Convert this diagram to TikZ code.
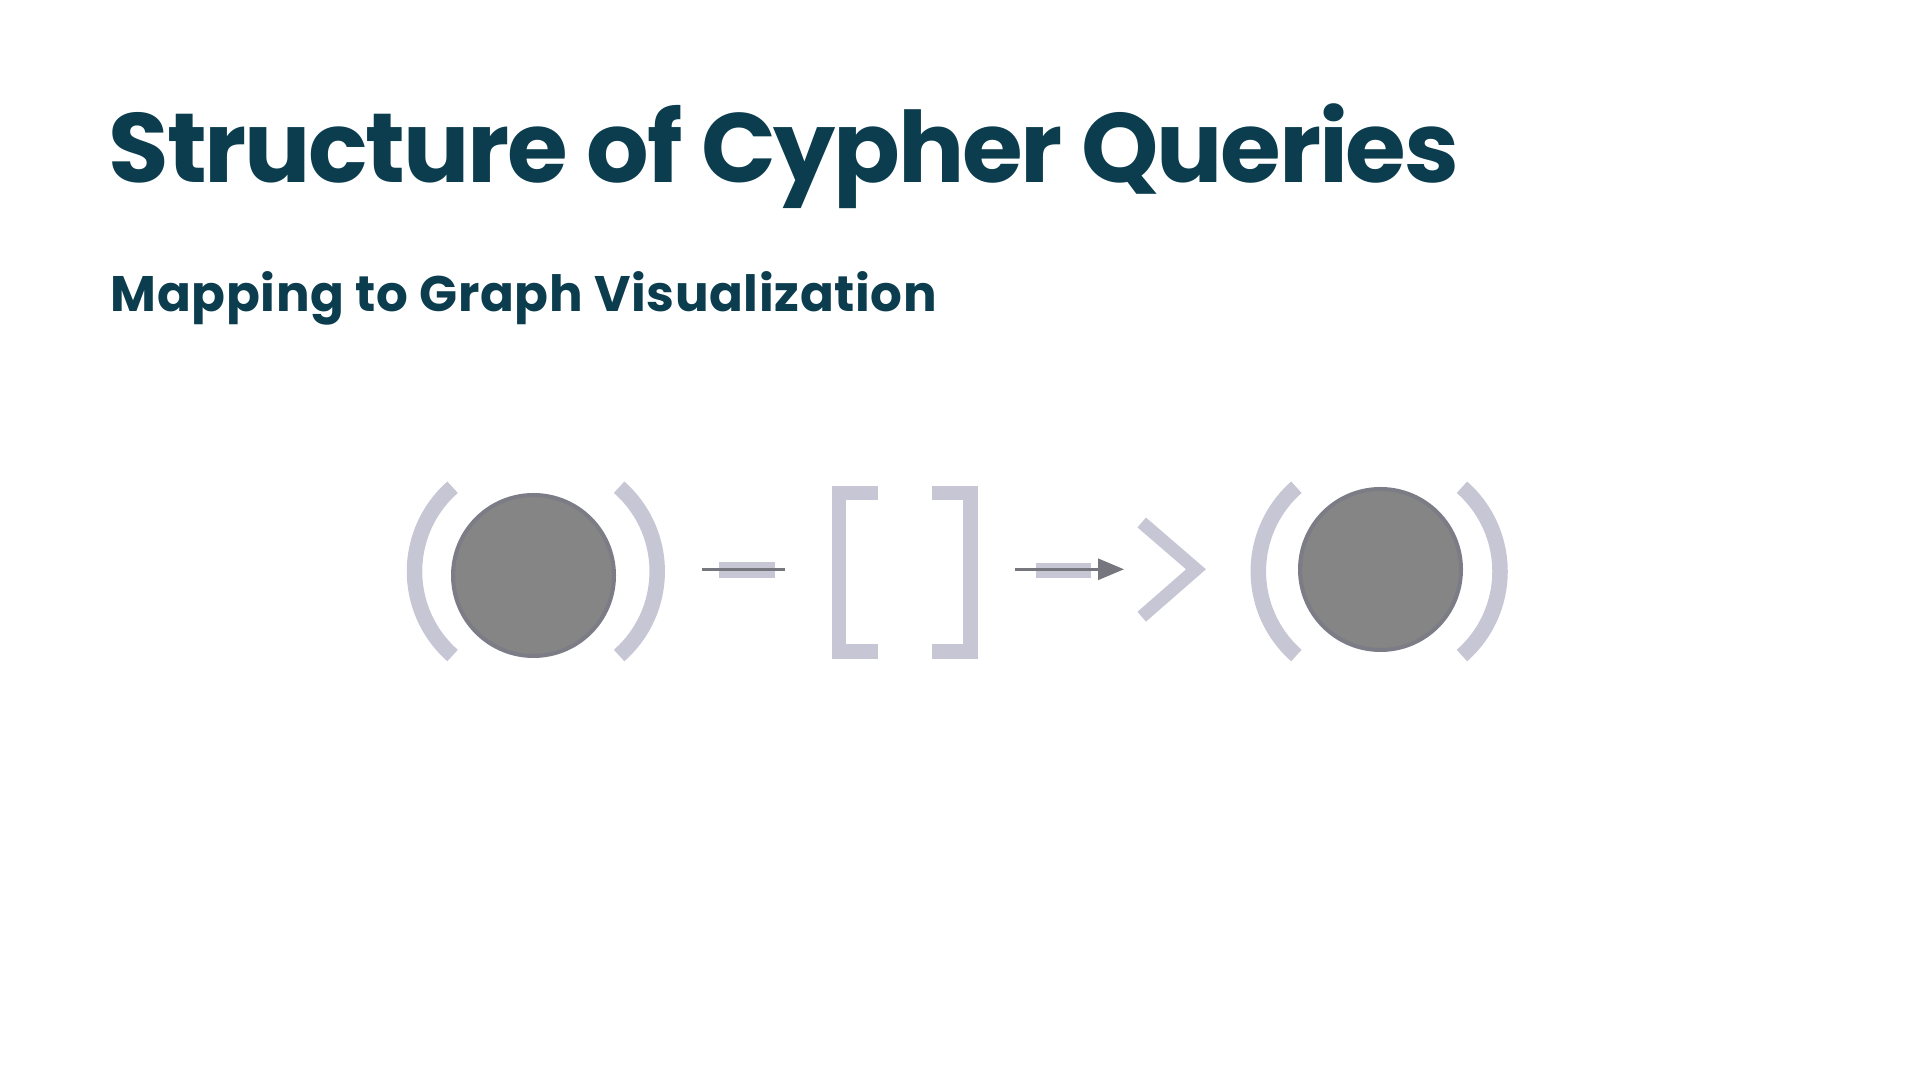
\documentclass[tikz,border=0pt]{standalone}
\usepackage{fontspec}
\setmainfont{Poppins}
\usetikzlibrary{positioning,arrows.meta}
\definecolor{ink}{HTML}{0B3D4E}
\definecolor{haze}{HTML}{C6C6D4}
\definecolor{blob}{HTML}{858585}
\definecolor{blobrim}{HTML}{7B7C86}
\definecolor{rule}{HTML}{76767E}

\begin{document}
\begin{tikzpicture}[
    glyph/.style={haze,line width=0.155cm,line cap=butt,line join=miter},
    graphnode/.style={circle,fill=blob,draw=blobrim,line width=0.04cm,inner sep=0pt,minimum size=1.61cm},
    bar/.style={fill=haze,draw=none},
    wire/.style={rule,line width=0.03cm}]
        \useasboundingbox (0,0) rectangle (19.2,10.8);
        \node[font=\fontsize{28}{30}\selectfont\bfseries\addfontfeatures{LetterSpace=-2.3},color=ink,anchor=base west,inner sep=0pt] (title) at (1.08,8.973) {Structure of Cypher Queries};
        \node[font=\fontsize{14.2}{16}\selectfont\bfseries\addfontfeatures{LetterSpace=1.3},color=ink,anchor=base west,inner sep=0pt] (subtitle) at (1.10,7.68) {Mapping to Graph Visualization};
        % nodes with their round brackets
        \foreach \lx/\rx in {5.265/5.452,13.703/13.88}{
          \draw[glyph] (\lx,5.086) ++(131.3:1.12) arc (131.3:228.7:1.12);
          \draw[glyph] (\rx,5.086) ++(-48.7:1.12) arc (-48.7:48.7:1.12);}
        \node[graphnode] (start) at (5.335,5.045) {};
        \node[graphnode] (end) at (13.805,5.105) {};
        % dash before the relationship
        \fill[bar] (7.19,5.02) rectangle (7.75,5.18);
        \coordinate (dashL) at (7.02,5.10);
        \coordinate (dashR) at (7.85,5.10);
        \draw[wire] (dashL) -- (dashR);
        % square brackets
        \draw[glyph,line width=0.145cm] (8.783,5.87) -- (8.39,5.87) -- (8.39,4.283) -- (8.783,4.283);
        \draw[glyph,line width=0.145cm] (9.323,5.87) -- (9.705,5.87) -- (9.705,4.283) -- (9.323,4.283);
        % arrow after the relationship
        \fill[bar] (10.357,5.023) rectangle (10.907,5.173);
        \coordinate (arrowL) at (10.15,5.107);
        \coordinate (arrowR) at (11.24,5.107);
        \draw[wire,-{Triangle[length=0.26cm,width=0.21cm]}] (arrowL) -- (arrowR);
        \draw[glyph,line width=0.13cm] (11.417,5.575) -- (11.96,5.107) -- (11.417,4.633);
      \end{tikzpicture}
\end{document}
